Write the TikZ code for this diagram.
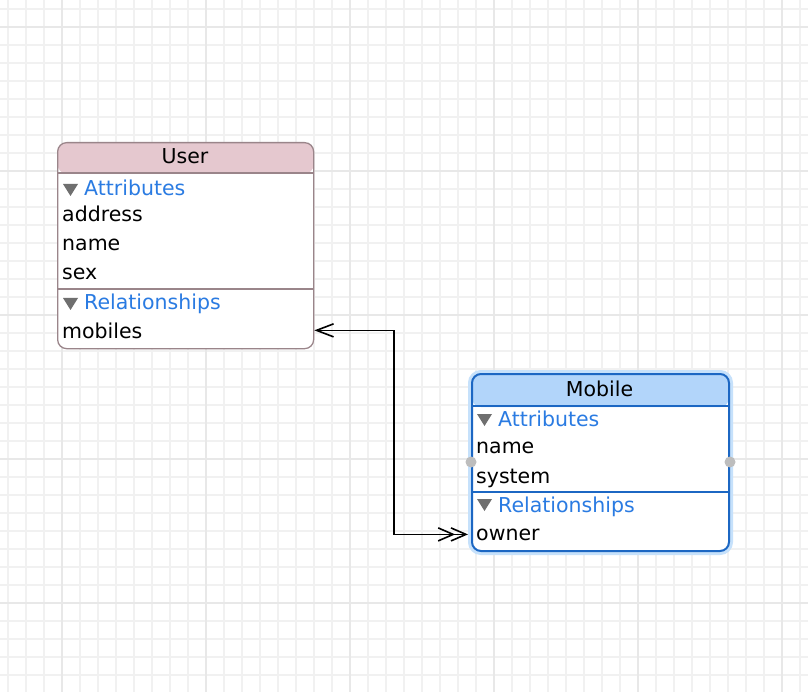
\documentclass[tikz,border=0pt]{standalone}
\usepackage{fontspec}
\setmainfont{DejaVu Sans}
\usepackage{tikz}
\usetikzlibrary{arrows.meta, positioning, calc}
\definecolor{GridMinor}{HTML}{F1F1F1}
\definecolor{GridMajor}{HTML}{E8E8E8}
\definecolor{UserHead}{HTML}{E5C8CF}
\definecolor{UserLine}{HTML}{9A858A}
\definecolor{MobileHead}{HTML}{B2D5FA}
\definecolor{MobileLine}{HTML}{1C67C3}
\definecolor{MobileGlow}{HTML}{C6E1FB}
\definecolor{SectionBlue}{HTML}{2A7BE2}
\definecolor{TriangleGray}{HTML}{6F6F6F}
\definecolor{HandleGray}{HTML}{BDBDBD}
\newcommand{\entityfont}{\fontsize{20.5pt}{24pt}\selectfont}
\tikzset{
  % Grid styles
  gridminor/.style={draw=GridMinor, line width=1.5pt},
  gridmajor/.style={draw=GridMajor, line width=1.5pt},
  % Entity styles
  entitybox/.style={rectangle, rounded corners=9pt, fill=white, anchor=north west, inner sep=0pt},
  userbox/.style={entitybox, draw=UserLine, line width=1.3pt, minimum width=256pt, minimum height=206pt,
    path picture={\fill[UserHead] (path picture bounding box.north west) rectangle ([yshift=-31pt]path picture bounding box.north east);}},
  mobilebox/.style={entitybox, draw=MobileLine, line width=2pt, minimum width=257pt, minimum height=177pt,
    preaction={draw=MobileGlow, line width=8pt},
    path picture={\fill[MobileHead] (path picture bounding box.north west) rectangle ([yshift=-33pt]path picture bounding box.north east);}},
  userline/.style={draw=UserLine, line width=1.3pt},
  mobileline/.style={draw=MobileLine, line width=2pt},
  % Text styles
  titletext/.style={font=\entityfont, anchor=base, inner sep=0pt},
  sectiontext/.style={font=\entityfont, text=SectionBlue, anchor=base west, inner sep=0pt},
  rowtext/.style={font=\entityfont, anchor=base west, inner sep=0pt},
  disclosure/.style={fill=TriangleGray},
  handle/.style={fill=HandleGray},
  % Arrow styles
  relation/.style={draw=black, line width=1.6pt,
    arrows={Straight Barb[length=17pt,width=13pt]-Straight Barb[length=15pt,width=13pt,sep=-5pt] Straight Barb[length=15pt,width=13pt]}}
}

\begin{document}
\begin{tikzpicture}[x=1pt, y=-1pt]
  % Canvas
  \useasboundingbox (0,0) rectangle (808,692);
  \fill[white] (0,0) rectangle (808,692);

  % Background grid
  \foreach \x in {8,26,...,800} {
    \draw[gridminor] (\x,0) -- (\x,692);
  }
  \foreach \y in {9,27,...,690} {
    \draw[gridminor] (0,\y) -- (808,\y);
  }
  \foreach \x in {62,206,...,800} {
    \draw[gridmajor] (\x,0) -- (\x,692);
  }
  \foreach \y in {27,171,...,690} {
    \draw[gridmajor] (0,\y) -- (808,\y);
  }

  % User entity
  \node[userbox] (user) at (57,142) {};
  \draw[userline] (57,173) -- (313,173);
  \draw[userline] (57,289) -- (313,289);
  \node[titletext] (user-title) at (185,164) {User};
  \fill[disclosure] (63,184) -- ++(15,0) -- ++(-7.5,12) -- cycle;
  \node[sectiontext] (user-attributes) at (84,196) {Attributes};
  \node[rowtext] (user-address) at (62,222) {address};
  \node[rowtext] (user-name) at (62,251) {name};
  \node[rowtext] (user-sex) at (62,280) {sex};
  \fill[disclosure] (63,298) -- ++(15,0) -- ++(-7.5,12) -- cycle;
  \node[sectiontext] (user-relationships) at (84,310) {Relationships};
  \node[rowtext] (user-mobiles) at (62,338) {mobiles};

  % Mobile entity (selected)
  \node[mobilebox] (mobile) at (471,373) {};
  \draw[mobileline] (471,406) -- (728,406);
  \draw[mobileline] (471,492) -- (728,492);
  \node[titletext] (mobile-title) at (599.5,396) {Mobile};
  \fill[disclosure] (477,414) -- ++(15,0) -- ++(-7.5,12) -- cycle;
  \node[sectiontext] (mobile-attributes) at (498,426) {Attributes};
  \node[rowtext] (mobile-name) at (476,453) {name};
  \node[rowtext] (mobile-system) at (476,483) {system};
  \fill[disclosure] (477,499) -- ++(15,0) -- ++(-7.5,12) -- cycle;
  \node[sectiontext] (mobile-relationships) at (498,512) {Relationships};
  \node[rowtext] (mobile-owner) at (476,540) {owner};
  \fill[handle] (mobile.west |- 0,462) circle (5.5pt);
  \fill[handle] (mobile.east |- 0,462) circle (5.5pt);

  % Relationship mobiles <-> owner
  \coordinate (bend) at (394,430);
  \draw[relation] (user.east |- user-mobiles) -| (bend) |- ([xshift=-3pt]mobile.west |- mobile-owner);
\end{tikzpicture}
\end{document}
